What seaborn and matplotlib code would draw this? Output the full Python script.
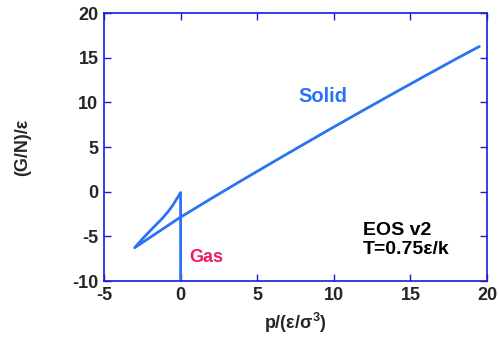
import matplotlib
matplotlib.use("Agg")
import matplotlib.pyplot as plt
import seaborn as sns
import pandas as pd
import numpy as np

# Gas branch (vertical at p=0), then liquid-like branch down to the cusp, then solid branch
gas_p = [0.0, 0.0]
gas_G = [-10.0, -0.1]
liq_p = [-0.1, -0.25, -0.5, -0.8, -1.2, -1.6, -2.0, -2.5, -3.0]
liq_G = [-0.38, -0.8, -1.5, -2.2, -3.0, -3.7, -4.4, -5.3, -6.28]
sol_p = [-2.0, -1.0, 0.0, 2.0, 4.0, 6.0, 8.0, 10.0, 12.0, 14.0, 16.0, 18.0, 19.5]
sol_G = [-5.13, -3.99, -2.85, -0.77, 1.27, 3.28, 5.27, 7.24, 9.18, 11.10, 13.00, 14.88, 16.25]

x_ticks = [-5, 0, 5, 10, 15, 20]
y_ticks = [-10, -5, 0, 5, 10, 15, 20]

df = pd.DataFrame({
    "p": gas_p + liq_p + sol_p,
    "G": gas_G + liq_G + sol_G,
})

sns.set_style("white")
plt.rcParams["font.family"] = ["Liberation Sans", "DejaVu Sans"]
plt.rcParams["axes.unicode_minus"] = False
plt.rcParams["mathtext.fontset"] = "custom"
plt.rcParams["mathtext.rm"] = "Liberation Sans:bold"
plt.rcParams["mathtext.it"] = "Liberation Sans:bold"
plt.rcParams["mathtext.bf"] = "Liberation Sans:bold"

fig = plt.figure(figsize=(4.99, 3.38), dpi=100)
ax = fig.add_axes([104/499, 1-281/338, (487-104)/499, (281-13)/338])

line_color = "#2b73f2"
sns.lineplot(data=df, x="p", y="G", sort=False, estimator=None, ax=ax,
             color=line_color, linewidth=2.0)

ax.set_xlim(-5, 20)
ax.set_ylim(-10, 20)
ax.set_xticks(x_ticks)
ax.set_yticks(y_ticks)
ax.set_xticklabels([str(t) for t in x_ticks], fontsize=13, fontweight="bold")
ax.set_yticklabels([str(t) for t in y_ticks], fontsize=13, fontweight="bold")

spine_color = "#1a1ae0"
for s in ax.spines.values():
    s.set_visible(True)
    s.set_color(spine_color)
    s.set_linewidth(1.2)
ax.tick_params(direction="in", length=5, width=1.0, color=spine_color,
               top=True, right=True, bottom=True, left=True, pad=4)

ax.set_xlabel(r"p/(ε/σ$^3$)", fontsize=13, fontweight="bold", labelpad=5)
ax.set_ylabel("(G/N)/ε", fontsize=13, fontweight="bold")
ax.yaxis.set_label_coords(-0.19, 0.5)

ax.text(9.3, 10.7, "Solid", color=line_color, fontsize=14.5, fontweight="bold",
        ha="center", va="center")
ax.text(1.7, -7.4, "Gas", color="#f0186a", fontsize=13, fontweight="bold",
        ha="center", va="center")
ax.text(11.9, -5.4, "EOS v2\nT=0.75ε/k", color="black", fontsize=14,
        fontweight="bold", ha="left", va="center", linespacing=1.15)

fig.savefig("out.png", dpi=100)
